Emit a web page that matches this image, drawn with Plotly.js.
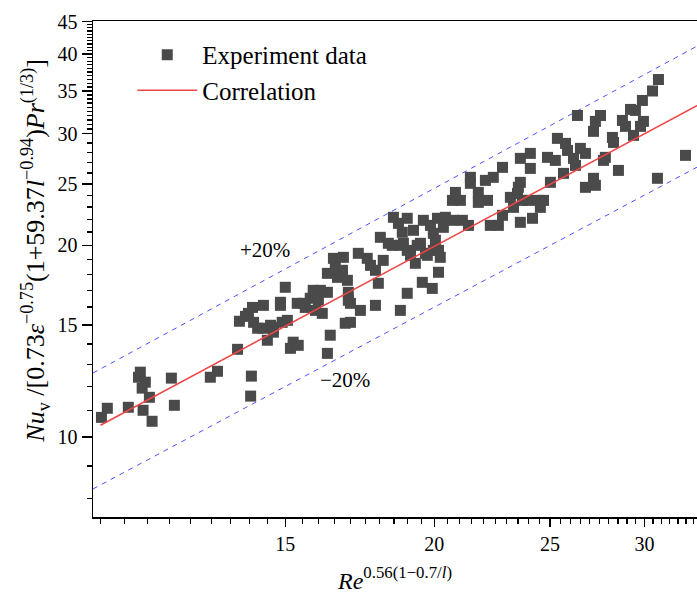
<!DOCTYPE html>
<html>
<head>
<meta charset="utf-8">
<script src="https://cdn.plot.ly/plotly-3.0.1.min.js"></script>
<style>html,body{margin:0;padding:0;background:#fff;}#chart{width:697px;height:594px;}</style>
</head>
<body>
<div id="chart"></div>
<script>
// Experiment data
var expX = [10.52,10.64,11.08,11.30,11.34,11.45,11.38,11.54,11.40,11.60,12.04,12.11,12.98,13.16,13.68,13.73,13.97,14.08,14.03,14.05,14.22,14.11,13.89,
14.38,14.38,14.49,14.58,14.66,14.86,14.91,15.06,15.00,14.86,15.15,15.23,15.38,15.35,15.59,15.74,15.83,15.99,16.05,15.90,16.11,16.27,16.27,16.46,16.52,16.36,16.27,14.66,15.53,
16.78,16.75,16.59,16.91,16.94,16.94,16.84,17.01,17.34,17.27,17.57,17.68,17.85,18.12,17.95,17.85,18.02,18.30,18.48,18.66,18.80,18.98,19.21,18.84,18.98,19.10,19.47,19.58,19.85,19.96,19.66,19.96,20.04,19.54,19.92,20.16,18.98,18.73,19.28,18.44,18.73,19.35,19.73,17.01,
20.12,20.43,20.75,21.11,21.36,20.35,20.83,20.71,21.03,21.44,21.44,21.77,21.77,22.16,22.07,22.41,22.81,23.16,23.48,22.81,22.28,22.63,23.61,20.16,23.94,24.17,24.54,23.30,
26.36,27.56,27.29,27.19,25.36,25.76,25.86,26.51,26.77,26.16,26.26,24.07,23.61,24.88,25.26,24.07,25.66,27.72,25.02,23.61,23.52,27.19,27.29,26.77,23.70,24.45,24.69,
30.82,30.47,29.88,29.20,29.48,28.75,28.92,29.94,29.77,29.37,28.20,28.26,27.82,28.53,30.76,32.47,20.23];
var expY = [10.73,11.09,11.13,12.41,12.64,12.19,11.93,11.54,11.01,10.58,12.37,11.21,12.41,12.68,13.73,15.20,15.64,15.98,11.59,12.46,14.82,15.14,15.47,
16.10,14.82,14.19,14.98,14.87,16.10,15.14,15.25,17.19,16.28,13.78,14.09,13.93,16.22,15.98,16.52,17.00,16.40,17.00,15.81,15.64,16.88,18.08,19.09,18.48,14.45,13.53,14.61,16.22,
19.16,18.28,17.82,17.63,16.88,16.40,15.09,15.14,15.81,19.44,19.09,18.61,18.28,18.95,17.44,16.10,20.60,20.16,22.15,21.67,20.98,22.07,21.13,20.16,19.65,19.30,20.16,21.91,21.51,20.90,19.44,19.65,20.38,17.50,17.12,18.15,16.82,15.81,18.75,20.01,20.01,20.01,19.30,16.22,
22.07,22.15,21.91,21.91,21.51,21.36,24.24,23.55,23.55,25.60,25.05,24.24,23.38,23.55,25.32,25.60,26.54,23.81,24.15,22.31,21.51,21.51,21.75,19.65,23.55,22.07,22.96,22.96,
32.03,32.03,31.35,30.24,29.48,28.95,28.22,28.43,27.92,27.42,26.73,27.92,27.42,27.52,27.22,26.44,25.97,27.22,25.14,25.14,24.69,25.51,24.87,24.69,23.55,23.55,23.55,
36.49,35.00,33.82,32.74,32.62,31.46,30.79,31.35,30.79,29.80,29.58,29.05,27.52,26.25,25.51,27.72,19.16];

// Correlation line and +/-20% bounds (end points)
var corrX = [10.5, 33.3];
var corrY = [10.43, 33.3];
var boundX = [10.35, 33.3];
var upperY = [12.6, 41.3];
var lowerY = [8.28, 26.64];

// Tick labels
var xTicks = [15, 20, 25, 30];
var yTicks = [10, 15, 20, 25, 30, 35, 40, 45];

// minor tick positions (style only)
var xMinor = [];
for (var v = 10.5; v <= 33.01; v += 0.5) { if (xTicks.indexOf(Math.round(v*10)/10) < 0) xMinor.push(Math.round(v*10)/10); }
var yMinor = [];
for (var w = 8; w <= 30; w += 1) { if (yTicks.indexOf(w) < 0) yMinor.push(w); }
for (var u = 30.5; u < 45; u += 0.5) { if (yTicks.indexOf(u) < 0) yMinor.push(u); }

var serif = '"Liberation Serif", "Times New Roman", serif';

var traces = [
  {x: boundX, y: upperY, mode: 'lines', line: {color: 'rgb(80,80,255)', width: 1, dash: '5px,5px'}, showlegend: false, hoverinfo: 'skip'},
  {x: boundX, y: lowerY, mode: 'lines', line: {color: 'rgb(80,80,255)', width: 1, dash: '5px,5px'}, showlegend: false, hoverinfo: 'skip'},
  {x: expX, y: expY, mode: 'markers', name: 'Experiment data', marker: {symbol: 'square', size: 11, color: 'rgb(74,74,74)'}},
  {x: corrX, y: corrY, mode: 'lines', name: 'Correlation', line: {color: 'rgb(240,70,70)', width: 1.5}}
];

var layout = {
  width: 697, height: 594,
  margin: {l: 93, r: 0, t: 21, b: 77},
  paper_bgcolor: '#fff', plot_bgcolor: '#fff',
  font: {family: serif, color: '#000', size: 19},
  showlegend: true,
  legend: {x: 0.065, y: 0.978, xanchor: 'left', yanchor: 'top', bgcolor: 'rgba(0,0,0,0)', font: {family: serif, size: 25, color: '#000'}, itemwidth: 60, tracegroupgap: 0},
  xaxis: {
    type: 'log', range: [Math.log10(10.35), Math.log10(33.2)],
    tickmode: 'array', tickvals: xTicks, ticktext: xTicks.map(String),
    ticks: 'outside', ticklen: 8, tickwidth: 1.5, tickcolor: '#000',
    showline: true, linecolor: '#000', linewidth: 1.5, mirror: true,
    showgrid: false, zeroline: false,
    tickfont: {family: serif, size: 20, color: '#000'},
    minor: {tickmode: 'array', tickvals: xMinor, ticks: 'outside', ticklen: 5, tickwidth: 1.2, tickcolor: '#000', showgrid: false},
    title: {text: '<i>Re</i><sup>0.56(1\u22120.7/<i>l</i>)</sup>', font: {family: serif, size: 24, color: '#000'}, standoff: 18}
  },
  yaxis: {
    type: 'log', range: [Math.log10(7.48), Math.log10(45.1)],
    tickmode: 'array', tickvals: yTicks, ticktext: yTicks.map(String),
    ticks: 'outside', ticklen: 10, tickwidth: 1.5, tickcolor: '#000',
    showline: true, linecolor: '#000', linewidth: 1.5, mirror: false,
    showgrid: false, zeroline: false,
    tickfont: {family: serif, size: 20, color: '#000'},
    minor: {tickmode: 'array', tickvals: yMinor, ticks: 'outside', ticklen: 5, tickwidth: 1.2, tickcolor: '#000', showgrid: false}
  },
  annotations: [
    {xref: 'paper', yref: 'paper', x: -0.096, y: 0.537, xanchor: 'center', yanchor: 'middle', textangle: -90, showarrow: false,
     text: '<i>Nu</i><sub>v</sub> /[0.73<i>\u03b5</i><sup>\u22120.75</sup>(1+59.37<i>l</i><sup>\u22120.94</sup>)<i>Pr</i><sup>(1/3)</sup>]',
     font: {family: serif, size: 26, color: '#000'}},
    {xref: 'paper', yref: 'paper', x: 0.2848, y: 0.538, xanchor: 'center', yanchor: 'middle', showarrow: false, text: '+20%', font: {family: serif, size: 21, color: '#000'}},
    {xref: 'paper', yref: 'paper', x: 0.417, y: 0.276, xanchor: 'center', yanchor: 'middle', showarrow: false, text: '\u221220%', font: {family: serif, size: 21, color: '#000'}}
  ]
};

Plotly.newPlot('chart', traces, layout, {displayModeBar: false, staticPlot: true});
</script>
</body>
</html>
